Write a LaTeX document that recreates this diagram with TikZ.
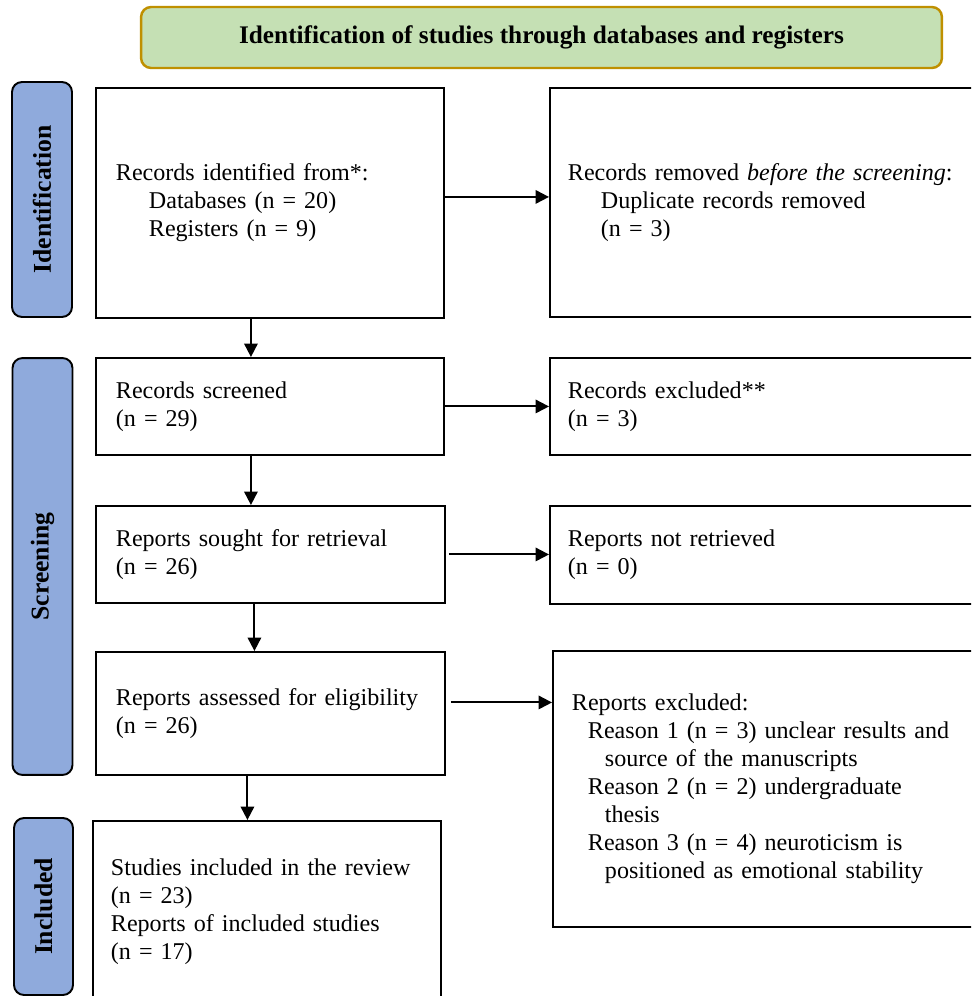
\documentclass[tikz,border=0pt]{standalone}
\usepackage{fontspec}
\setmainfont{Liberation Serif}
\usetikzlibrary{arrows.meta}

\definecolor{headgreen}{HTML}{C5E0B4}
\definecolor{headgold}{HTML}{BF9000}
\definecolor{phaseblue}{HTML}{8FAADC}

\tikzset{
  box/.style={draw, line width=1.1pt, anchor=north west, align=left,
    inner xsep=0.4cm, inner ysep=0pt, font=\fontsize{13.7}{15.9}\selectfont},
  phase/.style={draw, line width=1.1pt, fill=phaseblue, rounded corners=0.2cm,
    rotate=90, minimum height=1.2cm, inner sep=0pt,
    font=\fontsize{14.6}{16}\selectfont\bfseries},
  arr/.style={line width=1.1pt, -{Triangle[length=0.27cm,width=0.27cm]}}
}
\newcommand{\ind}{\hspace*{0.66cm}}
\newcommand{\halfind}{\hspace*{0.32cm}}

\begin{document}
\begin{tikzpicture}[x=0.02cm, y=-0.02cm]
  \useasboundingbox (0,0) rectangle (971,996);
  \fill[white] (0,0) rectangle (971,996);
  \clip (0,0) rectangle (971,996);

  % header
  \node[draw=headgold, line width=1.4pt, fill=headgreen, rounded corners=0.2cm,
    minimum width=16.02cm, minimum height=1.22cm,
    font=\fontsize{14.4}{16}\selectfont\bfseries] (head) at (541.5,37.5)
    {Identification of studies through databases and registers};

  % phases
  \node[phase, minimum width=4.7cm] (ident) at (42,199.5) {Identification};
  \node[phase, minimum width=8.34cm] (screen) at (42.5,566.5) {Screening};
  \node[phase, minimum width=3.54cm, minimum height=1.18cm] (incl) at (43.5,906.5) {Included};

  % main column
  \node[box, text width=6.16cm, minimum height=4.6cm] (ident1) at (95,87)
    {Records identified from*:\\ \ind Databases (n = 20)\\ \ind Registers (n = 9)};
  \node[box, text width=6.16cm, minimum height=1.94cm] (screen1) at (95,357)
    {Records screened\\(n = 29)};
  \node[box, text width=6.18cm, minimum height=1.94cm] (sought) at (95,505)
    {Reports sought for retrieval\\(n = 26)};
  \node[box, text width=6.18cm, minimum height=2.46cm] (assess) at (95,651)
    {Reports assessed for eligibility\\(n = 26)};
  \node[box, inner xsep=0.36cm, text width=6.24cm, minimum height=3.64cm] (incl1) at (92,820)
    {Studies included in the review\\(n = 23)\\Reports of included studies\\(n = 17)};

  % right column
  \node[box, inner xsep=0.36cm, text width=8.3cm, minimum height=4.58cm] (removed) at (549,87)
    {Records removed \emph{before the screening}:\\ \ind Duplicate records removed\\ \ind (n = 3)};
  \node[box, inner xsep=0.36cm, text width=8.3cm, minimum height=1.94cm] (excl1) at (549,357)
    {Records excluded**\\(n = 3)};
  \node[box, inner xsep=0.36cm, text width=8.3cm, minimum height=1.96cm] (notret) at (549,505)
    {Reports not retrieved\\(n = 0)};
  \node[box, inner xsep=0.38cm, text width=8.2cm, minimum height=5.52cm] (excl2) at (552,650)
    {Reports excluded:\\
     \halfind Reason 1 (n = 3) unclear results and\\
     \ind source of the manuscripts\\
     \halfind Reason 2 (n = 2) undergraduate\\
     \ind thesis\\
     \halfind Reason 3 (n = 4) neuroticism is\\
     \ind positioned as emotional stability};

  % arrows
  \draw[arr] ([yshift=0.12cm]ident1.east) -- ([yshift=0.12cm]ident1.east -| removed.west);
  \draw[arr] (screen1.east) -- (screen1.east -| excl1.west);
  \draw[arr] ([xshift=0.06cm]sought.east) -- (sought.east -| notret.west);
  \draw[arr] ([xshift=0.1cm,yshift=0.22cm]assess.east) -- ([yshift=0.22cm]assess.east -| excl2.west);
  \draw[arr] ([xshift=-0.38cm]ident1.south) -- ([xshift=-0.38cm]ident1.south |- screen1.north);
  \draw[arr] ([xshift=-0.38cm]screen1.south) -- ([xshift=-0.38cm]screen1.south |- sought.north);
  \draw[arr] ([xshift=-0.32cm]sought.south) -- ([xshift=-0.32cm]sought.south |- assess.north);
  \draw[arr] ([xshift=-0.46cm]assess.south) -- ([xshift=-0.46cm]assess.south |- incl1.north);
\end{tikzpicture}
\end{document}
